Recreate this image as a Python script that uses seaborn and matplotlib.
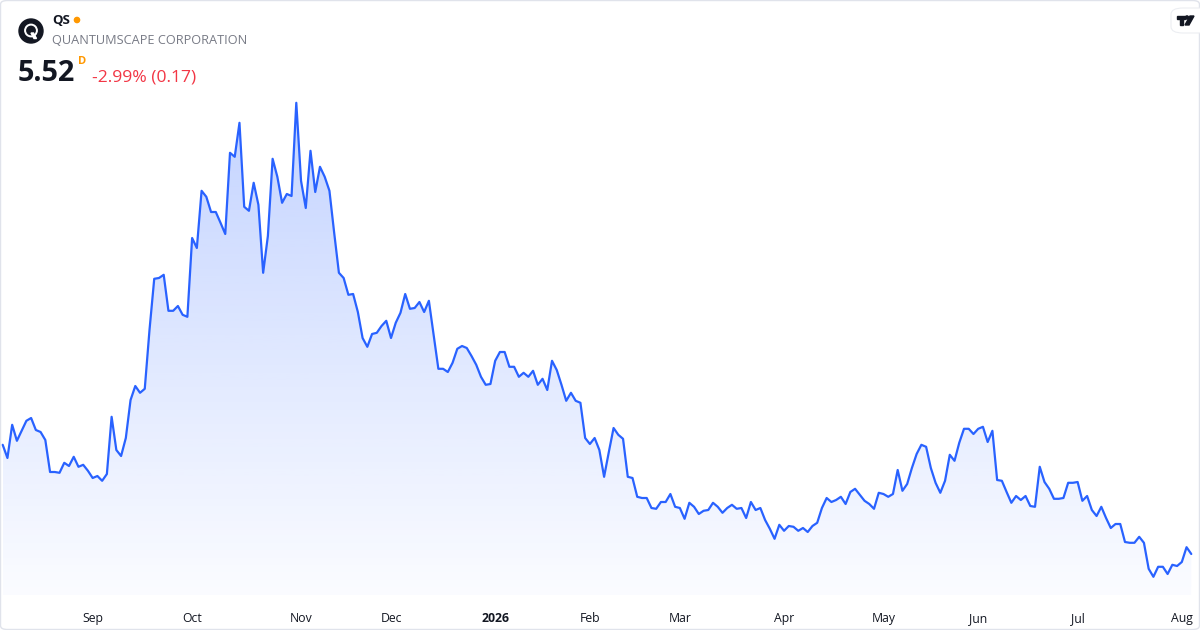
import numpy as np
import pandas as pd
import matplotlib.pyplot as plt
import seaborn as sns
from matplotlib.colors import LinearSegmentedColormap
from matplotlib.patches import FancyBboxPatch, Ellipse, Polygon

sns.set_theme(style="white")
plt.rcParams["font.family"] = ["Open Sans", "DejaVu Sans"]

# daily closes, QS, Aug 2025 - Aug 2026
close = [
    8.25, 7.92, 8.75, 8.35, 8.60, 8.85, 8.92, 8.62, 8.57, 8.37,
    7.57, 7.57, 7.55, 7.80, 7.72, 7.95, 7.70, 7.75, 7.60, 7.42,
    7.47, 7.35, 7.52, 8.95, 8.12, 7.97, 8.42, 9.37, 9.72, 9.55,
    9.65, 11.12, 12.40, 12.42, 12.50, 11.60, 11.60, 11.72, 11.50, 11.45,
    13.42, 13.17, 14.60, 14.45, 14.07, 14.07, 13.80, 13.52, 15.55, 15.45,
    16.30, 14.20, 14.10, 14.80, 14.25, 12.55, 13.47, 15.40, 14.95, 14.30,
    14.52, 14.47, 16.80, 14.85, 14.17, 15.60, 14.57, 15.20, 14.95, 14.60,
    13.55, 12.55, 12.42, 12.00, 12.02, 11.57, 10.92, 10.70, 11.02, 11.05,
    11.22, 11.35, 10.92, 11.30, 11.55,
    12.02, 11.65, 11.67, 11.82, 11.57, 11.85, 11.00, 10.15, 10.15, 10.07,
    10.30, 10.65, 10.72, 10.67, 10.47, 10.25, 9.95, 9.75, 9.77, 10.35,
    10.57, 10.57, 10.20, 10.20, 9.95, 10.05, 9.95, 10.10, 9.75, 9.90,
    9.62, 10.35, 10.12, 9.75, 9.35, 9.55, 9.35, 9.30, 8.42, 8.27,
    8.42, 8.12, 7.45, 8.07, 8.67, 8.50, 8.40, 7.45, 7.42, 6.95,
    6.92, 6.92, 6.67, 6.65, 6.82, 6.82, 7.02, 6.70, 6.67, 6.40,
    6.80, 6.70, 6.52, 6.60, 6.62, 6.80, 6.70, 6.55, 6.67, 6.75,
    6.65, 6.67, 6.42, 6.82, 6.62, 6.67, 6.37, 6.15, 5.90, 6.25,
    6.10, 6.22, 6.20,
    6.10, 6.17, 6.07, 6.22, 6.30, 6.67, 6.92, 6.82, 6.87, 6.95,
    6.77, 7.07, 7.15, 7.00, 6.85, 6.77, 6.65, 7.05, 7.02, 6.95,
    7.02, 7.62, 7.10, 7.27, 7.67, 8.02, 8.25, 8.20, 7.67, 7.30,
    7.05, 7.35, 8.00, 7.85, 8.30, 8.65, 8.65, 8.52, 8.65, 8.70,
    8.32, 8.60, 7.37, 7.35, 7.07, 6.80, 6.97, 6.87, 6.97, 6.72,
    6.70, 7.70, 7.32, 7.15, 6.90, 6.90, 6.92, 7.30, 7.30, 7.32,
    6.85, 6.97, 6.62, 6.47, 6.70, 6.42, 6.17, 6.27, 6.27, 5.82,
    5.80, 5.80, 5.95, 5.80, 5.15, 4.95, 5.20, 5.20, 5.02, 5.25,
    5.22, 5.32, 5.69, 5.52,
]
month_labels = ["Sep", "Oct", "Nov", "Dec", "2026", "Feb", "Mar", "Apr", "May", "Jun", "Jul", "Aug"]
month_start = [19, 40, 63, 82, 104, 124, 143, 165, 186, 206, 227, 249]  # trading-day index

ticker = "QS"
company = "QUANTUMSCAPE CORPORATION"
last_price = "5.52"
change_text = "-2.99% (0.17)"

df = pd.DataFrame({"day": np.arange(len(close)), "close": close})

W, H = 1200, 630
fig = plt.figure(figsize=(12, 6.3), dpi=100)
fig.patch.set_facecolor("white")

# plot area: full width, top to ~595px
ax = fig.add_axes([0, 35 / H, 1, 595 / H])
ax.set_facecolor("none")

line_color = "#2962FF"
ylo, yhi = 4.495, 19.37
xlo, xhi = -0.57, 252.84

# gradient fill under the line
poly = ax.fill_between(df["day"], df["close"], ylo, color="none", lw=0)
cmap = LinearSegmentedColormap.from_list(
    "tvfill", [(41/255, 98/255, 1, 0.02), (41/255, 98/255, 1, 0.28)])
grad = np.linspace(0, 1, 256).reshape(-1, 1)
im = ax.imshow(grad, extent=[df["day"].min(), df["day"].max(), ylo, df["close"].max()],
               origin="lower", aspect="auto", cmap=cmap, zorder=1)
im.set_clip_path(poly.get_paths()[0], transform=ax.transData)

sns.lineplot(data=df, x="day", y="close", ax=ax, color=line_color, lw=1.6, zorder=3)

ax.set_xlim(xlo, xhi)
ax.set_ylim(ylo, yhi)
for s in ax.spines.values():
    s.set_visible(False)
ax.set_yticks([])
ax.set_xticks(month_start)
ax.set_xticklabels(month_labels)
ax.tick_params(axis="x", length=0, pad=12, labelsize=8.8, labelcolor="#131722")
for lab in ax.get_xticklabels():
    if lab.get_text().isdigit():
        lab.set_fontweight("bold")
ax.set_xlabel("")
ax.set_ylabel("")

# outer frame
frame = FancyBboxPatch((0.5 / W, 0.5 / H), 1 - 1 / W, 1 - 1 / H,
                       boxstyle="round,pad=0,rounding_size=0.006",
                       transform=fig.transFigure, fill=False, ec="#e0e3eb", lw=1)
fig.patches.append(frame)

# header
def px(x, y):
    return x / W, 1 - y / H

def dot(x, y, r, color):
    fig.patches.append(Ellipse(px(x, y), 2 * r / W, 2 * r / H,
                               transform=fig.transFigure, color=color, zorder=5))

dot(31, 31, 12, "#131722")
dot(31, 30.5, 6.2, "white")
dot(31, 30.5, 4.2, "#131722")
fig.patches.append(Polygon([px(a, b) for a, b in [(31, 33), (33.5, 33), (36.5, 38.5), (34, 38.5)]],
                           closed=True, transform=fig.transFigure, color="white", zorder=6))
fig.text(*px(52, 20), ticker, color="#131722", fontsize=9.5, fontweight="bold",
         va="center")
dot(77, 20, 2.6, "#ff9800")
fig.text(*px(52, 41), company, color="#787b86", fontsize=9.2, va="center")
fig.text(*px(18, 81), last_price, color="#131722", fontsize=20.8,
         fontweight="bold", va="baseline")
fig.text(*px(77.5, 61), "D", color="#ff9800", fontsize=8, fontweight="bold",
         va="center")
fig.text(*px(92, 81), change_text, color="#f23645", fontsize=12.6,
         va="baseline")

# TradingView badge, top right
badge = FancyBboxPatch(px(1171, 33), 40 / W, 25 / H,
                       boxstyle="round,pad=0,rounding_size=0.01",
                       transform=fig.transFigure, fc="white", ec="#eceef2", lw=0.8)
fig.patches.append(badge)
for pts in ([(1177, 16), (1185, 16), (1185, 19), (1183, 19), (1183, 25), (1180, 25),
             (1180, 19), (1177, 19)],
            [(1190, 16), (1194, 16), (1189, 25), (1185, 25)]):
    fig.patches.append(Polygon([px(a, b) for a, b in pts], closed=True,
                               transform=fig.transFigure, color="#131722"))
dot(1187, 17.5, 1.6, "#131722")

fig.savefig("out.png", dpi=100, facecolor="white")
